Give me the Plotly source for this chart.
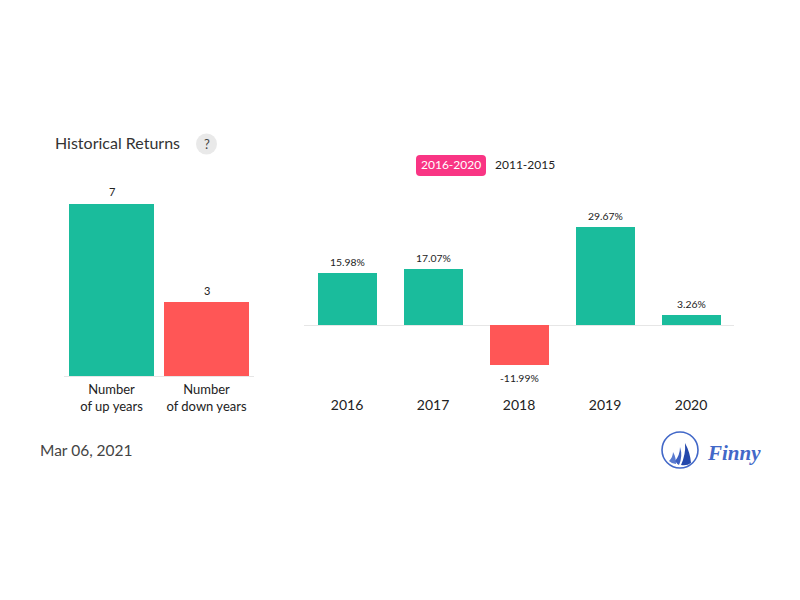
import plotly.graph_objects as go

count_labels = ["Number<br>of up years", "Number<br>of down years"]
count_values = [7, 3]
years = ["2016", "2017", "2018", "2019", "2020"]
returns = [15.98, 17.07, -11.99, 29.67, 3.26]

GREEN = "#1abc9c"
RED = "#ff5656"
W, H = 784, 584   # the page body adds an 8px margin around the figure
OFF = 8
FONT = "Lato, 'Open Sans', sans-serif"
LEFT_SCALE = 24.58
RIGHT_SCALE = 3.303
ZERO_Y = 325.4


def px(x):
    return (x - OFF) / W


def py(y):
    return 1 - (y - OFF) / H


def rounded(x0, y0, x1, y1, r):
    return (f"M{x0 + r},{y0} L{x1 - r},{y0} Q{x1},{y0} {x1},{y0 + r} L{x1},{y1 - r} Q{x1},{y1} {x1 - r},{y1} "
            f"L{x0 + r},{y1} Q{x0},{y1} {x0},{y1 - r} L{x0},{y0 + r} Q{x0},{y0} {x0 + r},{y0} Z")


fig = go.Figure()
fig.add_trace(go.Bar(
    x=count_labels, y=count_values, xaxis="x", yaxis="y", width=0.892,
    marker=dict(color=[GREEN if i == 0 else RED for i in range(len(count_values))], line_width=0),
    hoverinfo="skip",
))
fig.add_trace(go.Bar(
    x=years, y=returns, xaxis="x2", yaxis="y2", width=0.686,
    marker=dict(color=[GREEN if v >= 0 else RED for v in returns], line_width=0),
    hoverinfo="skip",
))

# pixel-space decoration drawn through a hidden full-page axis pair
deco = dict(xref="x3", yref="y3")
shapes = [
    dict(type="circle", x0=196, x1=217, y0=133.5, y1=154.5, fillcolor="#e9e9e9", line_width=0, **deco),
    dict(type="path", path=rounded(416, 155, 486, 176, 4), fillcolor="#f93584", line_width=0, **deco),
    dict(type="circle", x0=662, x1=698, y0=432, y1=468, fillcolor="rgba(0,0,0,0)",
         line=dict(color="#4268c8", width=1.6), **deco),
    dict(type="path", path="M673,452 Q673,457 669,461 Q672,464 676,464 Q676,457 673,452 Z",
         fillcolor="#5a7bd0", line_width=0, **deco),
    dict(type="path", path="M680,447 Q680,455 675,461 Q677,464 679,465 Q683,456 680,447 Z",
         fillcolor="#3c5fc0", line_width=0, **deco),
    dict(type="path", path="M685,443 Q686,454 681,465 Q687,466 691,463 Q690,452 685,443 Z",
         fillcolor="#2448ac", line_width=0, **deco),
]

annotations = [
    dict(x=53, y=142.5, text="Historical Returns", xanchor="left", font=dict(size=16, color="#333333")),
    dict(x=206.5, y=143.5, text="?", font=dict(size=13, color="#444444")),
    dict(x=451, y=164, text="2016-2020", font=dict(size=12, color="#ffffff")),
    dict(x=525, y=164, text="2011-2015", font=dict(size=12, color="#222222")),
    dict(x=38, y=450, text="Mar 06, 2021", xanchor="left", font=dict(size=15.5, color="#444444")),
    dict(x=705, y=453, text="<b><i>Finny</i></b>", xanchor="left",
         font=dict(size=21, color="#4268c8", family="'Liberation Serif', serif")),
]
for a in annotations:
    a.update(xref="x3", yref="y3", showarrow=False, yanchor="middle")
    a["font"].setdefault("family", FONT)

# value labels placed through the data axes (category axes take the category index)
for i, v in enumerate(count_values):
    annotations.append(dict(x=i, y=v, xref="x", yref="y", text=str(v), showarrow=False,
                            yanchor="middle", yshift=12,
                            font=dict(size=11, color="#222222", family=FONT)))
for i, v in enumerate(returns):
    annotations.append(dict(x=i, y=v, xref="x2", yref="y2", text=f"{v:.2f}%", showarrow=False,
                            yanchor="middle", yshift=11 if v >= 0 else -13,
                            font=dict(size=10.4, color="#222222", family=FONT)))

# placeholder trace so the full-page pixel axes exist
fig.add_trace(go.Scatter(x=[None], y=[None], xaxis="x3", yaxis="y3", hoverinfo="skip", showlegend=False))

fig.update_layout(
    width=W, height=H, autosize=False, margin=dict(l=0, r=0, t=0, b=0),
    paper_bgcolor="#ffffff", plot_bgcolor="rgba(0,0,0,0)", showlegend=False, bargap=0,
    font=dict(family=FONT, color="#222222"),
    shapes=shapes, annotations=annotations,
    xaxis=dict(domain=[px(64), px(254)], type="category", range=[-0.5, 1.5], showgrid=False, zeroline=False,
               showline=True, linecolor="#e6e6e6", linewidth=1, ticks="", fixedrange=True, ticklabelstandoff=1,
               tickfont=dict(size=13, color="#222222")),
    yaxis=dict(domain=[py(376), py(180)], range=[0, 196 / LEFT_SCALE], visible=False, fixedrange=True),
    xaxis2=dict(domain=[px(304), px(734)], type="category", range=[-0.5, 4.5], showgrid=False, zeroline=False,
                anchor="y2", showline=False, ticks="", fixedrange=True,
                tickfont=dict(size=14, color="#222222")),
    yaxis2=dict(domain=[py(395), py(180)], range=[-(395 - ZERO_Y) / RIGHT_SCALE, (ZERO_Y - 180) / RIGHT_SCALE],
                showgrid=False, zeroline=True, zerolinecolor="#e6e6e6", zerolinewidth=1, showticklabels=False,
                ticks="", showline=False, anchor="x2", fixedrange=True),
    xaxis3=dict(domain=[0, 1], range=[OFF, OFF + W], visible=False, anchor="y3", fixedrange=True),
    yaxis3=dict(domain=[0, 1], range=[OFF + H, OFF], visible=False, anchor="x3", fixedrange=True),
)

fig.write_html("out.html", config=dict(displayModeBar=False))
